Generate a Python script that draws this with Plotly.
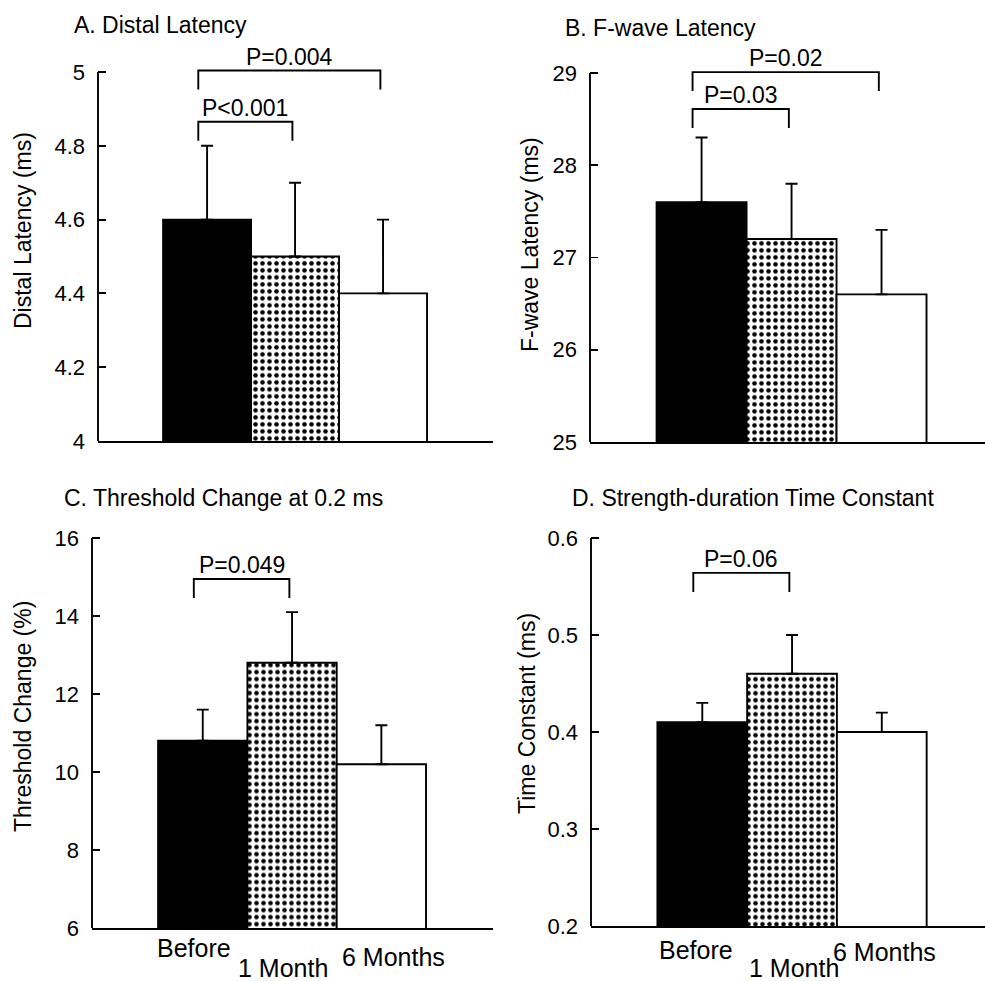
import plotly.graph_objects as go

# ---------------- data ----------------
categories = ["Before", "1 Month", "6 Months"]
x_pos = [1, 2, 3]

a_mean = [4.6, 4.5, 4.4]
a_err = [0.2, 0.2, 0.2]
a_ticks = [4, 4.2, 4.4, 4.6, 4.8, 5]

b_mean = [27.6, 27.2, 26.6]
b_err = [0.7, 0.6, 0.7]
b_ticks = [25, 26, 27, 28, 29]

c_mean = [10.8, 12.8, 10.2]
c_err = [0.8, 1.3, 1.0]
c_ticks = [6, 8, 10, 12, 14, 16]

d_mean = [0.41, 0.46, 0.40]
d_err = [0.02, 0.04, 0.02]
d_ticks = [0.2, 0.3, 0.4, 0.5, 0.6]

# comparisons: (from bar, to bar, bracket level, label)
a_cmp = [(1, 2, 4.865, "P<0.001"), (1, 3, 5.004, "P=0.004")]
b_cmp = [(1, 2, 28.61, "P=0.03"), (1, 3, 29.01, "P=0.02")]
c_cmp = [(1, 2, 14.95, "P=0.049")]
d_cmp = [(1, 2, 0.564, "P=0.06")]

titles = ["A. Distal Latency", "B. F-wave Latency",
          "C. Threshold Change at 0.2 ms", "D. Strength-duration Time Constant"]
ytitles = ["Distal Latency (ms)", "F-wave Latency (ms)",
           "Threshold Change (%)", "Time Constant (ms)"]

# ---------------- layout geometry (pixels) ----------------
W, H = 985, 981
FONT = "Liberation Sans, Arial, Helvetica, sans-serif"
FS = 22
LW = 1.9

bar_styles = [
    dict(color="black", pattern=dict(shape="")),
    dict(color="white", pattern=dict(shape=".", fgcolor="black", bgcolor="white",
                                     size=7, solidity=0.34, fillmode="replace")),
    dict(color="white", pattern=dict(shape="")),
]

panels = [
    dict(mean=a_mean, err=a_err, ticks=a_ticks, cmp=a_cmp, xpx=(98, 493), lo=441, top=72,
         xr=[-0.24, 4.25], title=(72, 25), ytl=(23, 231)),
    dict(mean=b_mean, err=b_err, ticks=b_ticks, cmp=b_cmp, xpx=(590, 985), lo=442, top=73,
         xr=[-0.24, 4.15], title=(563, 28), ytl=(530, 245)),
    dict(mean=c_mean, err=c_err, ticks=c_ticks, cmp=c_cmp, xpx=(92, 493), lo=928, top=538,
         xr=[-0.24, 4.25], title=(62, 498), ytl=(23, 717)),
    dict(mean=d_mean, err=d_err, ticks=d_ticks, cmp=d_cmp, xpx=(591, 985), lo=926, top=538,
         xr=[-0.24, 4.15], title=(570, 498), ytl=(527, 714)),
]
EXTRA = 0.06

fig = go.Figure()
shapes = []
annotations = []


def fmt(v):
    return ("%.2f" % v).rstrip("0").rstrip(".")


for i, p in enumerate(panels):
    k = "" if i == 0 else str(i + 1)
    xa, ya = "x" + k, "y" + k
    lo_v, top_v = p["ticks"][0], p["ticks"][-1]
    span = top_v - lo_v
    plot_top_px = p["top"] - EXTRA * (p["lo"] - p["top"])
    for c in range(3):
        st = bar_styles[c]
        fig.add_trace(go.Bar(
            x=[x_pos[c]], y=[p["mean"][c]], width=1.0, xaxis=xa, yaxis=ya,
            marker=dict(color=st["color"], line=dict(color="black", width=LW),
                        pattern=st["pattern"]),
            error_y=dict(type="data", symmetric=False, array=[p["err"][c]], arrayminus=[0],
                         color="black", thickness=LW, width=6),
            showlegend=False, hoverinfo="skip"))
    fig.update_layout({
        ("xaxis" + k): dict(domain=[p["xpx"][0] / W, p["xpx"][1] / W], range=p["xr"],
                            anchor=ya, showline=True, linecolor="black", linewidth=LW,
                            showticklabels=False, ticks="", showgrid=False, zeroline=False,
                            fixedrange=True, automargin=False),
        ("yaxis" + k): dict(domain=[1 - p["lo"] / H, 1 - plot_top_px / H],
                            range=[lo_v, top_v + EXTRA * span], anchor=xa,
                            showline=False, ticks="inside", ticklen=8, tickwidth=LW,
                            tickcolor="black", tickvals=p["ticks"],
                            ticktext=[fmt(t) for t in p["ticks"]],
                            ticklabelstandoff=12, automargin=False,
                            tickfont=dict(family=FONT, size=FS, color="black"),
                            showgrid=False, zeroline=False, fixedrange=True),
    })
    shapes.append(dict(type="line", xref=xa + " domain", x0=0, x1=0, yref=ya,
                       y0=lo_v, y1=top_v, line=dict(color="black", width=LW)))
    drop = 19 / (p["lo"] - p["top"]) * span
    for (a, b, lvl, lab) in p["cmp"]:
        x0, x1 = a - 0.1, b - 0.03
        shapes.append(dict(type="path", xref=xa, yref=ya,
                           path=f"M {x0},{lvl - drop} L {x0},{lvl} L {x1},{lvl} L {x1},{lvl - drop}",
                           line=dict(color="black", width=LW)))
        annotations.append(dict(xref=xa, yref=ya, x=(x0 + x1) / 2, y=lvl, text=lab,
                                showarrow=False, yanchor="bottom", xanchor="center", yshift=-1,
                                font=dict(family=FONT, size=FS + 1, color="black")))
    annotations.append(dict(xref="paper", yref="paper", x=p["title"][0] / W,
                            y=1 - p["title"][1] / H, text=titles[i], showarrow=False,
                            xanchor="left", yanchor="middle",
                            font=dict(family=FONT, size=FS + 1, color="black")))
    annotations.append(dict(xref="paper", yref="paper", x=p["ytl"][0] / W,
                            y=1 - p["ytl"][1] / H, text=ytitles[i], showarrow=False,
                            textangle=-90, xanchor="center", yanchor="middle",
                            font=dict(family=FONT, size=FS + 1, color="black")))

label_rows = [[(948, -9), (968, -9), (957, 12)], [(950, -6), (968, 2), (952, 3)]]
for j, ax in enumerate(["x3", "x4"]):
    for c, (ypx, dx) in zip(range(3), label_rows[j]):
        annotations.append(dict(xref=ax, yref="paper", x=x_pos[c], y=1 - ypx / H,
                                text=categories[c], showarrow=False, xanchor="center",
                                yanchor="middle", xshift=dx, borderpad=0,
                                font=dict(family=FONT, size=FS + 3, color="black")))

fig.update_layout(width=W, height=H, margin=dict(l=0, r=0, t=0, b=0, autoexpand=False),
                  paper_bgcolor="white", plot_bgcolor="white",
                  shapes=shapes, annotations=annotations, bargap=0)
fig.write_html("out.html", config={"displayModeBar": False, "staticPlot": True},
               post_script="document.body.style.margin='0';document.body.style.overflow='hidden';")
